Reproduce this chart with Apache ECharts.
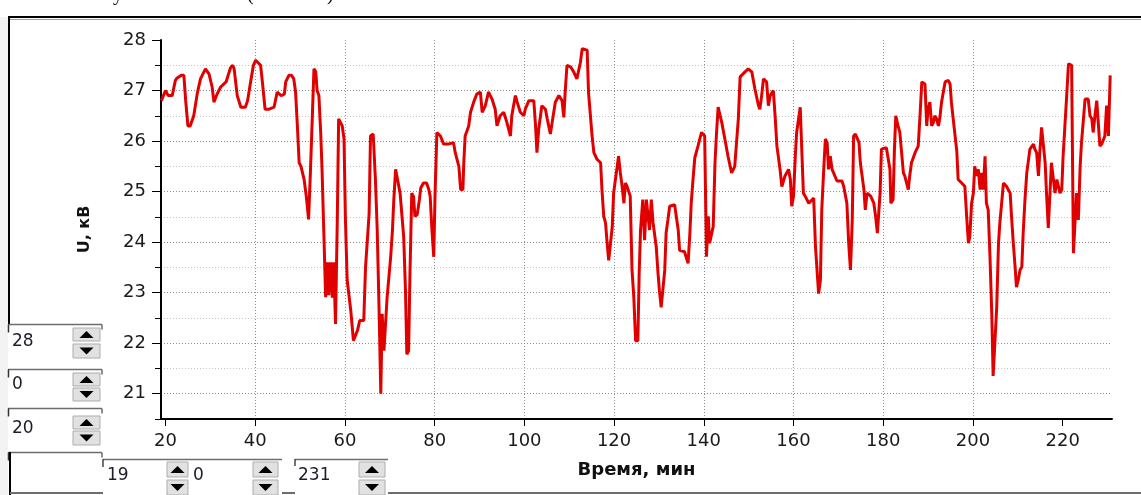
<!DOCTYPE html>
<html>
<head>
<meta charset="utf-8">
<title>U(t)</title>
<script src="https://cdn.jsdelivr.net/npm/echarts@6/dist/echarts.min.js"></script>
<style>
    html, body { margin: 0; padding: 0; background: #fff; }
    #chart { width: 1141px; height: 495px; }
</style>
</head>
<body>
<div id="chart"></div>
<script>
// время, мин
let times = [
    19.1, 20.0, 20.6, 21.5, 22.2, 22.6, 23.5, 24.1, 24.5, 25.0,
    25.5, 26.3, 27.1, 27.8, 28.9, 29.7, 30.4, 30.8, 31.5, 32.3,
    33.5, 34.5, 35.0, 35.3, 36.0, 36.8, 37.8, 38.3, 38.9, 39.6,
    40.1, 41.2, 41.6, 42.2, 43.1, 44.2, 44.9, 45.8, 46.5, 46.8,
    47.5, 48.1, 48.6, 49.0, 49.4, 49.8, 50.2, 50.9, 51.4, 51.9,
    52.3, 52.7, 53.1, 53.5, 53.8, 54.2, 54.6, 54.9, 55.3, 55.7,
    56.1, 56.4, 56.8, 57.2, 57.5, 57.9, 58.3, 58.6, 59.0, 59.4,
    59.8, 60.1, 60.5, 61.3, 61.9, 62.8, 63.3, 64.2, 64.6, 65.4,
    65.7, 66.3, 66.8, 67.2, 67.6, 68.0, 68.3, 68.7, 69.4, 70.2,
    70.6, 70.9, 71.3, 71.7, 72.3, 73.1, 73.5, 73.8, 74.2, 74.5,
    74.9, 75.3, 75.6, 76.1, 76.6, 76.9, 77.5, 78.2, 78.7, 79.0,
    79.4, 79.8, 80.1, 80.5, 81.3, 82.0, 83.0, 84.2, 84.6, 85.4,
    85.8, 86.3, 86.5, 86.8, 87.6, 88.0, 88.7, 89.4, 90.2, 90.6,
    91.3, 92.0, 92.8, 93.5, 93.9, 94.6, 95.4, 96.1, 96.9, 97.2,
    98.0, 98.4, 99.1, 99.9, 100.2, 101.0, 102.1, 102.5, 102.8, 103.2,
    103.9, 104.7, 105.1, 105.8, 106.2, 106.9, 107.7, 108.4, 108.8, 109.1,
    109.5, 110.3, 111.0, 111.7, 112.5, 112.9, 114.0, 114.3, 115.1, 115.5,
    116.2, 117.0, 117.3, 117.7, 118.1, 118.4, 118.8, 119.6, 119.9, 120.3,
    120.7, 121.0, 121.4, 121.8, 122.2, 122.5, 122.9, 123.6, 124.0, 124.4,
    124.8, 125.3, 125.6, 125.9, 126.4, 126.8, 127.2, 127.9, 128.3, 128.7,
    129.4, 129.8, 130.1, 130.5, 131.3, 131.6, 132.0, 132.4, 133.5, 134.3,
    134.6, 135.7, 136.5, 136.9, 137.2, 137.6, 138.0, 138.7, 139.1, 139.5,
    140.2, 140.6, 141.0, 141.3, 142.1, 142.5, 142.8, 143.2, 144.0, 144.7,
    145.4, 146.2, 146.9, 147.7, 148.1, 149.2, 149.9, 150.7, 151.4, 152.2,
    152.5, 152.9, 153.3, 154.0, 154.4, 154.8, 155.5, 155.9, 156.3, 157.0,
    157.4, 158.1, 158.9, 159.3, 159.6, 160.0, 160.4, 160.7, 161.5, 161.9,
    162.2, 162.6, 163.4, 164.5, 164.9, 165.6, 166.0, 166.3, 166.7, 167.1,
    167.5, 167.8, 168.2, 168.6, 169.7, 170.8, 171.2, 171.9, 172.3, 172.7,
    173.1, 173.4, 173.8, 174.6, 174.9, 175.7, 176.0, 176.4, 177.2, 177.9,
    178.3, 178.7, 179.3, 179.6, 180.7, 181.5, 181.7, 182.2, 182.5, 182.8,
    183.3, 183.7, 184.1, 184.5, 184.8, 185.6, 185.9, 186.3, 187.1, 187.8,
    188.2, 188.6, 189.3, 189.7, 190.0, 190.4, 190.8, 191.2, 191.5, 191.9,
    192.3, 192.6, 193.0, 193.8, 194.5, 194.9, 195.2, 195.6, 196.4, 196.7,
    197.5, 198.2, 198.6, 199.0, 199.3, 199.7, 200.1, 200.4, 200.8, 201.2,
    201.6, 201.9, 202.3, 202.7, 203.0, 203.4, 203.8, 204.2, 204.5, 204.9,
    205.3, 205.7, 206.0, 206.4, 206.8, 207.5, 208.3, 208.6, 209.0, 209.4,
    209.7, 210.1, 210.5, 210.9, 211.2, 211.6, 212.0, 212.7, 213.5, 213.8,
    214.2, 214.6, 214.9, 215.3, 215.7, 216.1, 216.4, 216.8, 217.2, 217.5,
    217.9, 218.3, 218.7, 219.4, 219.8, 220.1, 220.5, 220.9, 221.3, 222.0,
    222.4, 222.8, 223.1, 223.5, 223.9, 224.2, 225.0, 225.7, 226.1, 226.5,
    226.8, 227.2, 227.6, 228.0, 228.3, 228.7, 229.4, 229.8, 230.2, 230.6
];
// напряжение, кВ
let volts = [
    26.8, 27.0, 26.9, 26.9, 27.2, 27.25, 27.3, 27.3, 26.8, 26.3,
    26.3, 26.5, 26.95, 27.23, 27.43, 27.33, 27.07, 26.77, 26.93, 27.07,
    27.17, 27.45, 27.5, 27.43, 26.9, 26.67, 26.67, 26.8, 27.13, 27.5,
    27.6, 27.5, 27.17, 26.63, 26.63, 26.67, 26.97, 26.9, 26.93, 27.17,
    27.3, 27.3, 27.23, 26.97, 26.3, 25.57, 25.5, 25.24, 24.9, 24.45,
    25.37, 26.4, 27.43, 27.37, 27.0, 26.9, 26.17, 25.44, 24.18, 22.91,
    23.6, 22.95, 23.6, 22.9, 23.6, 22.38, 24.44, 26.44, 26.44, 26.3,
    26.04, 24.5, 23.25, 22.65, 22.05, 22.25, 22.45, 22.45, 23.51, 24.57,
    26.1, 26.14, 25.24, 24.24, 22.71, 21.0, 22.58, 21.85, 22.9, 23.71,
    24.24, 24.84, 25.44, 25.44, 24.97, 24.11, 23.05, 21.78, 21.85, 23.38,
    24.97, 24.9, 24.51, 24.54, 24.84, 25.07, 25.17, 25.17, 25.04, 24.91,
    24.24, 23.71, 24.97, 26.17, 26.1, 25.94, 25.94, 25.97, 25.77, 25.5,
    25.04, 25.04, 25.57, 26.1, 26.3, 26.57, 26.77, 26.93, 26.97, 26.57,
    26.7, 26.97, 26.83, 26.63, 26.3, 26.5, 26.57, 26.37, 26.1, 26.5,
    26.9, 26.77, 26.57, 26.5, 26.63, 26.8, 26.8, 26.3, 25.77, 26.24,
    26.7, 26.63, 26.44, 26.14, 26.37, 26.77, 26.9, 26.8, 26.47, 26.97,
    27.5, 27.47, 27.37, 27.23, 27.56, 27.83, 27.8, 26.97, 26.1, 25.77,
    25.64, 25.57, 25.04, 24.51, 24.38, 24.04, 23.64, 24.31, 24.97, 25.24,
    25.5, 25.7, 25.37, 25.1, 24.77, 25.17, 25.1, 24.91, 23.45, 22.91,
    22.05, 22.05, 23.4, 24.24, 24.84, 24.04, 24.84, 24.24, 24.84, 24.38,
    23.91, 23.38, 23.05, 22.71, 23.45, 24.18, 24.44, 24.71, 24.74, 24.24,
    23.84, 23.81, 23.58, 24.18, 24.77, 25.24, 25.67, 25.9, 26.04, 26.17,
    26.1, 23.71, 24.51, 23.98, 24.31, 25.57, 26.1, 26.67, 26.37, 26.04,
    25.7, 25.37, 25.5, 26.44, 27.27, 27.37, 27.43, 27.37, 27.03, 26.7,
    26.63, 26.9, 27.23, 27.17, 26.7, 26.9, 27.0, 26.5, 25.9, 25.44,
    25.1, 25.31, 25.44, 25.24, 24.71, 24.91, 25.7, 26.17, 26.67, 25.7,
    24.97, 24.91, 24.77, 24.87, 23.91, 22.98, 23.25, 24.64, 25.37, 26.04,
    25.97, 25.44, 25.7, 25.44, 25.21, 25.21, 25.1, 24.77, 23.98, 23.45,
    24.44, 26.1, 26.14, 25.97, 25.57, 25.04, 24.64, 24.97, 24.91, 24.77,
    24.51, 24.18, 24.97, 25.84, 25.87, 25.44, 24.77, 24.84, 25.84, 26.5,
    26.3, 26.17, 25.77, 25.37, 25.31, 25.04, 25.31, 25.57, 25.77, 25.9,
    26.5, 27.17, 27.13, 26.3, 26.63, 26.77, 26.3, 26.37, 26.5, 26.44,
    26.3, 26.44, 26.77, 27.17, 27.2, 27.13, 26.77, 26.44, 25.8, 25.24,
    25.17, 25.1, 24.51, 23.98, 24.11, 24.77, 24.97, 25.5, 25.31, 25.44,
    25.04, 25.37, 25.04, 25.7, 24.77, 24.64, 23.71, 22.58, 21.35, 21.35,
    22.71, 23.98, 24.38, 24.77, 25.17, 25.1, 24.97, 24.51, 23.98, 23.51,
    23.11, 23.25, 23.45, 23.51, 24.18, 24.84, 25.37, 25.84, 25.94, 25.84,
    25.77, 25.31, 25.77, 26.27, 26.24, 25.57, 24.97, 24.28, 24.31, 25.57,
    25.6, 24.97, 25.24, 24.97, 25.04, 25.7, 26.3, 26.9, 27.53, 27.5,
    23.78, 23.78, 24.97, 24.44, 25.5, 25.97, 26.83, 26.83, 26.5, 26.44,
    26.17, 26.5, 26.8, 26.77, 25.9, 25.94, 26.1, 26.7, 26.1, 27.3
];
// подписи осей
let xTicks = [20, 40, 60, 80, 100, 120, 140, 160, 180, 200, 220];
let yTicks = [21, 22, 23, 24, 25, 26, 27, 28];
let xRange = [19, 231];
let yRange = [20.5, 28];
// значения в полях ввода
let spinLeft = ['28', '0', '20'];
let spinBottom = ['19', '0', '231'];

let font = '"DejaVu Sans", sans-serif';

// кнопки вверх/вниз
function spinButtons(x, w, yUp, hUp, yDn, hDn) {
    let cx = x + w / 2;
    let cu = yUp + hUp / 2;
    let cd = yDn + hDn / 2;
    let btn = { fill: '#e1e1e1', stroke: '#adadad', lineWidth: 1 };
    return [
        { type: 'rect', shape: { x: x, y: yUp, width: w, height: hUp }, style: btn },
        { type: 'rect', shape: { x: x, y: yDn, width: w, height: hDn }, style: btn },
        { type: 'polygon', shape: { points: [[cx - 7, cu + 3.5], [cx + 7, cu + 3.5], [cx, cu - 3.5]] }, style: { fill: '#000' } },
        { type: 'polygon', shape: { points: [[cx - 7, cd - 3.5], [cx + 7, cd - 3.5], [cx, cd + 3.5]] }, style: { fill: '#000' } }
    ];
}
function line(x1, y1, x2, y2, color, w) {
    return { type: 'line', shape: { x1: x1, y1: y1, x2: x2, y2: y2 }, style: { stroke: color, lineWidth: w } };
}
function label(text, x, y) {
    return {
        type: 'text', x: x, y: y,
        style: { text: text, font: '17px ' + font, fill: '#1c1c2c', align: 'left', verticalAlign: 'middle', textAlign: 'left', textVerticalAlign: 'middle' }
    };
}

let frame = [];
frame.push({ type: 'rect', shape: { x: 0, y: 17, width: 8, height: 478 }, style: { fill: '#f3f3f3' } });
// обрезанная подпись сверху
['у', '(', ')'].forEach(function (ch, i) {
    frame.push({
        type: 'text', x: [113, 247, 327][i], y: 5,
        style: { text: ch, font: '20px "Liberation Serif", serif', fill: '#000', verticalAlign: 'bottom', textVerticalAlign: 'bottom' }
    });
});
frame.push(line(8, 17, 1141, 17, '#000', 2));
frame.push(line(8, 19.5, 1141, 19.5, '#a0a0a0', 1));
frame.push(line(9, 17, 9, 325, '#000', 2));
// левые поля
[324.5, 369.5, 408.5, 452.5].forEach(function (y) {
    frame.push(line(8, y, 102, y, '#6d6d6d', 1.5));
    frame.push(line(102, y, 102, y + 5, '#6d6d6d', 1.5));
    frame.push(line(8.5, y, 8.5, y + 8, '#333', 1.5));
});
frame = frame.concat(spinButtons(73, 27, 328, 13, 344, 14));
frame = frame.concat(spinButtons(73, 27, 373, 13, 388, 13));
frame = frame.concat(spinButtons(73, 27, 416, 13, 431, 14));
frame.push(label(spinLeft[0], 12, 342));
frame.push(label(spinLeft[1], 12, 385));
frame.push(label(spinLeft[2], 12, 429));
frame.push(line(10, 452, 10, 495, '#000', 2));
frame.push(line(10, 493, 103, 493, '#6d6d6d', 2));
// нижние поля
frame.push(line(103, 459.5, 282, 459.5, '#6d6d6d', 1.5));
frame.push(line(295, 459.5, 388, 459.5, '#6d6d6d', 1.5));
frame.push(line(103, 459, 103, 467, '#444', 1.5));
frame.push(line(295, 459, 295, 466, '#444', 1.5));
frame.push(line(282, 493, 295, 493, '#6d6d6d', 2));
frame.push(line(388, 493, 1141, 493, '#6d6d6d', 2));
frame = frame.concat(spinButtons(167, 21, 462, 15, 480, 15));
frame = frame.concat(spinButtons(253, 25, 462, 15, 480, 15));
frame = frame.concat(spinButtons(359, 26, 462, 15, 480, 15));
frame.push(label(spinBottom[0], 107, 476));
frame.push(label(spinBottom[1], 193, 476));
frame.push(label(spinBottom[2], 298, 476));

let myChart = echarts.init(document.getElementById('chart'));
let option = {
    animation: false,
    backgroundColor: '#ffffff',
    grid: { left: 161, top: 40, right: 29, bottom: 76, containLabel: false },
    xAxis: {
        type: 'value',
        min: xRange[0],
        max: xRange[1],
        splitNumber: 10,
        name: 'Время, мин',
        nameLocation: 'middle',
        nameGap: 42,
        nameTextStyle: { fontFamily: font, fontSize: 18, fontWeight: 'bold', color: '#111' },
        axisLine: { lineStyle: { color: '#000', width: 2 } },
        axisTick: { show: true, customValues: xTicks, length: 7, lineStyle: { color: '#000', width: 1 } },
        axisLabel: { customValues: xTicks, margin: 13, fontFamily: font, fontSize: 18, color: '#1a1a1a' },
        splitLine: {
            show: true, showMinLine: false, showMaxLine: false,
            lineStyle: { color: '#8c8c8c', type: [1, 2], width: 1 }
        }
    },
    yAxis: [{
        type: 'value',
        position: 'left',
        min: yRange[0],
        max: yRange[1],
        interval: 0.5,
        name: 'U, кВ',
        nameLocation: 'middle',
        nameGap: 68,
        nameTextStyle: { fontFamily: font, fontSize: 16, fontWeight: 'bold', color: '#111' },
        axisLine: { show: true, lineStyle: { color: '#000', width: 2 } },
        axisTick: { show: true, length: 6, lineStyle: { color: '#000', width: 1 } },
        axisLabel: {
            margin: 15, fontFamily: font, fontSize: 18, color: '#1a1a1a',
            formatter: function (v) {
                return Math.abs(v - Math.round(v)) < 1e-6 ? String(Math.round(v)) : '';
            }
        },
        splitLine: {
            show: true, showMaxLine: false,
            // полуцелые светлее, целые темнее
            lineStyle: { color: ['#c4c4c4', '#8c8c8c'], type: [1, 2], width: 1 }
        }
    }, {
        type: 'value',
        position: 'left',
        min: yRange[0],
        max: yRange[1],
        axisLine: { show: false },
        axisTick: { show: true, customValues: yTicks, length: 9, lineStyle: { color: '#000', width: 1 } },
        axisLabel: { show: false },
        splitLine: { show: false }
    }],
    series: [{
        type: 'line',
        yAxisIndex: 0,
        data: times.map(function (t, i) { return [t, volts[i]]; }),
        showSymbol: false,
        symbol: 'none',
        lineStyle: { color: '#e00000', width: 3 },
        itemStyle: { color: '#e00000' },
        clip: true,
        z: 3
    }],
    graphic: { elements: frame }
};
myChart.setOption(option);
</script>
</body>
</html>
